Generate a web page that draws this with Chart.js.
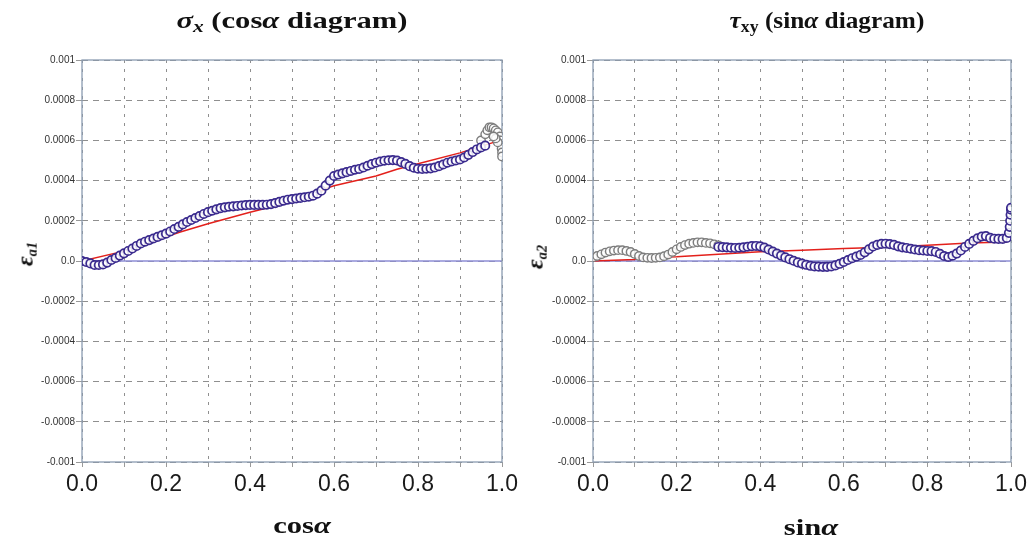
<!DOCTYPE html>
<html><head><meta charset="utf-8">
<script src="https://cdn.jsdelivr.net/npm/chart.js@4/dist/chart.umd.min.js"></script>
<style>
html,body{margin:0;padding:0;background:#fff}
body{width:1031px;height:539px;position:relative;overflow:hidden;font-family:"Liberation Sans",Arial,sans-serif}
.cv{position:absolute;top:0;height:539px}
.t{position:absolute;font-family:"Liberation Serif","Times New Roman",serif;font-weight:bold;color:#111;white-space:nowrap;transform:translate(-50%,-50%) scaleX(1.33);line-height:1}
.t sub{font-size:0.7em;vertical-align:-0.3em}
.yt{position:absolute;font-family:"Liberation Serif","Times New Roman",serif;font-weight:bold;font-style:italic;color:#111;white-space:nowrap;transform:translate(-50%,-50%) rotate(-90deg);line-height:1;font-size:24px}
.yt sub{font-size:0.6em;vertical-align:-0.3em}
</style>
</head><body>
<div class="cv" style="left:0;width:530px"><canvas id="c1" width="530" height="539"></canvas></div>
<div class="cv" style="left:515px;width:516px"><canvas id="c2" width="516" height="539"></canvas></div>

<div class="t" style="left:292px;top:22px;font-size:23px"><i>σ</i><sub><i>x</i></sub> (cos<i>α</i> diagram)</div>
<div class="t" style="left:827px;top:22px;font-size:23px;transform:translate(-50%,-50%) scaleX(1.1)"><i>τ</i><sub>xy</sub> (sin<i>α</i> diagram)</div>
<div class="t" style="left:302px;top:525px;font-size:23px">cos<i>α</i></div>
<div class="t" style="left:811px;top:527px;font-size:23px">sin<i>α</i></div>
<div class="yt" style="left:26px;top:254px">ε<sub>a1</sub></div>
<div class="yt" style="left:536px;top:257px">ε<sub>a2</sub></div>

<script>
// ---------- data ----------
const xTickLabels = ['0.0','0.2','0.4','0.6','0.8','1.0'];
const yTickLabels = ['-0.001','-0.0008','-0.0006','-0.0004','-0.0002','0.0','0.0002','0.0004','0.0006','0.0008','0.001'];

// Left chart (cos alpha)
const cosPurpleX = [0,0.01,0.02,0.03,0.04,0.05,0.06,0.07,0.08,0.09,0.10,0.11,0.12,0.13,0.14,0.15,0.16,0.17,0.18,0.19,0.20,0.21,0.22,0.23,0.24,0.25,0.26,0.27,0.28,0.29,0.30,0.31,0.32,0.33,0.34,0.35,0.36,0.37,0.38,0.39,0.40,0.41,0.42,0.43,0.44,0.45,0.46,0.47,0.48,0.49,0.50,0.51,0.52,0.53,0.54,0.55,0.56,0.57,0.58,0.59,0.60,0.61,0.62,0.63,0.64,0.65,0.66,0.67,0.68,0.69,0.70,0.71,0.72,0.73,0.74,0.75,0.76,0.77,0.78,0.79,0.80,0.81,0.82,0.83,0.84,0.85,0.86,0.87,0.88,0.89,0.90,0.91,0.92,0.93,0.94,0.95,0.96];
const cosPurpleY = [0,-0.000005,-0.000012,-0.00002,-0.00002,-0.000017,-0.000008,0.000005,0.000015,0.000027,0.000038,0.00005,0.000062,0.000075,0.000087,0.000096,0.000104,0.000112,0.00012,0.000128,0.000136,0.000147,0.000159,0.00017,0.000182,0.000194,0.000204,0.000214,0.000224,0.000234,0.000243,0.00025,0.000257,0.000263,0.000267,0.00027,0.000272,0.000274,0.000276,0.000278,0.000279,0.000279,0.000279,0.000279,0.00028,0.000283,0.000288,0.000294,0.0003,0.000305,0.000308,0.000311,0.000314,0.000317,0.00032,0.000325,0.000335,0.00035,0.000375,0.0004,0.000423,0.00043,0.000436,0.000442,0.000448,0.000454,0.000458,0.000465,0.000474,0.000482,0.000489,0.000495,0.000499,0.000501,0.000502,0.0005,0.000492,0.000483,0.000472,0.000464,0.000459,0.000458,0.000459,0.000461,0.000465,0.000472,0.00048,0.000489,0.000495,0.0005,0.000505,0.000515,0.000528,0.000542,0.000555,0.000565,0.000574];
const cosGrayX = [0.95,0.96,0.965,0.97,0.975,0.98,0.985,0.99,0.995,0.997,0.998,0.999,1.0,1.0,0.99,0.985,0.98];
const cosGrayY = [0.0006,0.00063,0.00065,0.000665,0.000665,0.00066,0.00065,0.00064,0.00062,0.0006,0.00058,0.00056,0.00054,0.00052,0.00059,0.00061,0.00062];
const cosRedX = [0,0.1,0.234,0.3,0.4,0.5,0.55,0.58,0.6,0.7,0.75,0.8,0.9,0.988];
const cosRedY = [0,0.000049,0.000144,0.000185,0.000243,0.000295,0.00032,0.00036,0.000374,0.000423,0.000456,0.000484,0.000538,0.000595];

// Right chart (sin alpha)
const sinGrayX = [0,0.01,0.02,0.03,0.04,0.05,0.06,0.07,0.08,0.09,0.10,0.11,0.12,0.13,0.14,0.15,0.16,0.17,0.18,0.19,0.20,0.21,0.22,0.23,0.24,0.25,0.26,0.27,0.28,0.29,0.30];
const sinGrayY = [0.000018,0.000025,0.000033,0.000042,0.000048,0.000052,0.000054,0.000054,0.00005,0.000045,0.000035,0.000025,0.000018,0.000016,0.000015,0.000016,0.000018,0.000024,0.000032,0.000045,0.000058,0.00007,0.000079,0.000086,0.00009,0.000093,0.000093,0.00009,0.000088,0.000083,0.000078];
const sinPurpleX = [0.30,0.31,0.32,0.33,0.34,0.35,0.36,0.37,0.38,0.39,0.40,0.41,0.42,0.43,0.44,0.45,0.46,0.47,0.48,0.49,0.50,0.51,0.52,0.53,0.54,0.55,0.56,0.57,0.58,0.59,0.60,0.61,0.62,0.63,0.64,0.65,0.66,0.67,0.68,0.69,0.70,0.71,0.72,0.73,0.74,0.75,0.76,0.77,0.78,0.79,0.80,0.81,0.82,0.83,0.84,0.85,0.86,0.87,0.88,0.89,0.90,0.91,0.92,0.93,0.94,0.95,0.96,0.97,0.98,0.99,0.995,0.997,0.998,0.999,1.0,1.0];
const sinPurpleY = [0.00007,0.000069,0.000068,0.000066,0.000065,0.000066,0.000068,0.000071,0.000074,0.000075,0.000073,0.000067,0.000057,0.000047,0.000037,0.000027,0.000018,0.000009,0.000001,-0.000007,-0.000013,-0.000019,-0.000024,-0.000027,-0.000028,-0.000029,-0.000029,-0.000027,-0.000022,-0.000014,-0.000005,0.000005,0.000014,0.000022,0.00003,0.000043,0.000058,0.000072,0.00008,0.000085,0.000086,0.000084,0.00008,0.000073,0.000068,0.000065,0.000061,0.000057,0.000054,0.000052,0.00005,0.000049,0.000045,0.000036,0.000025,0.00002,0.000026,0.000037,0.000052,0.00007,0.000085,0.0001,0.000113,0.000122,0.000124,0.000115,0.000111,0.00011,0.00011,0.000115,0.00014,0.00017,0.0002,0.00023,0.000255,0.000265];
const sinRedX = [0,0.1,0.105,0.2,0.3,0.4,0.5,0.6,0.7,0.8,0.9,0.99];
const sinRedY = [0,0.000008,0.000015,0.000021,0.000033,0.000046,0.000054,0.000062,0.000068,0.000078,0.000089,0.000094];

// ---------- drawing ----------
const pts = (xs, ys) => xs.map((x, i) => ({x, y: ys[i]}));
const PURPLE = '#3a2a8e', GRAY = '#7d7d7d', RED = '#e3201b';

const framePlugin = {
  id: 'frame',
  beforeDatasetsDraw(chart) {
    const {ctx, chartArea: a, scales} = chart;
    const y0 = scales.y.getPixelForValue(0);
    ctx.save();
    ctx.strokeStyle = '#8e8ed6'; ctx.lineWidth = 1.3;
    ctx.beginPath(); ctx.moveTo(a.left, y0); ctx.lineTo(a.right, y0); ctx.stroke();
    ctx.strokeStyle = '#8b9cb1'; ctx.lineWidth = 1.3;
    ctx.strokeRect(a.left, a.top, a.right - a.left, a.bottom - a.top);
    ctx.restore();
  }
};

function makeChart(id, purple, gray, red, yAxisW, padRight) {
  return new Chart(document.getElementById(id), {
    type: 'scatter',
    data: {datasets: [
      {data: purple, showLine: false, pointRadius: 4.2, pointBorderWidth: 1.7, pointBorderColor: PURPLE, pointBackgroundColor: 'rgba(255,255,255,0.85)', order: 1},
      {data: gray, showLine: false, pointRadius: 4.2, pointBorderWidth: 1.4, pointBorderColor: GRAY, pointBackgroundColor: 'rgba(255,255,255,0.85)', order: 2},
      {data: red, showLine: true, pointRadius: 0, borderColor: RED, borderWidth: 1.5, tension: 0, order: 3}
    ]},
    options: {
      responsive: false, animation: false, events: [],
      layout: {padding: {top: 60, right: padRight, bottom: 0, left: 0}},
      plugins: {legend: {display: false}, tooltip: {enabled: false}, title: {display: false}},
      scales: {
        x: {
          type: 'linear', min: 0, max: 1,
          afterFit(s) { s.height = 77; },
          ticks: {stepSize: 0.1, autoSkip: false, maxRotation: 0, padding: 4, color: '#1a1a1a',
                  font: {size: 23, family: '"Liberation Sans", Arial, sans-serif'},
                  callback: (v, i) => (i % 2 === 0 ? xTickLabels[i / 2] : '')},
          grid: {color: '#8f8f8f', lineWidth: 1, tickLength: 5, tickColor: '#9a9a9a'},
          border: {display: false, dash: [3, 6]}
        },
        y: {
          type: 'linear', min: -0.001, max: 0.001,
          afterFit(s) { s.width = yAxisW; },
          ticks: {stepSize: 0.0002, autoSkip: false, padding: 1, color: '#333',
                  font: {size: 10, family: '"Liberation Sans", Arial, sans-serif'},
                  callback: (v, i) => yTickLabels[i]},
          grid: {color: '#8f8f8f', lineWidth: 1, tickLength: 6, tickColor: '#9a9a9a'},
          border: {display: false, dash: [6, 5]}
        }
      }
    },
    plugins: [framePlugin]
  });
}

makeChart('c1', pts(cosPurpleX, cosPurpleY), pts(cosGrayX, cosGrayY), pts(cosRedX, cosRedY), 82, 28);
makeChart('c2', pts(sinPurpleX, sinPurpleY), pts(sinGrayX, sinGrayY), pts(sinRedX, sinRedY), 78, 20);
</script>
</body></html>
